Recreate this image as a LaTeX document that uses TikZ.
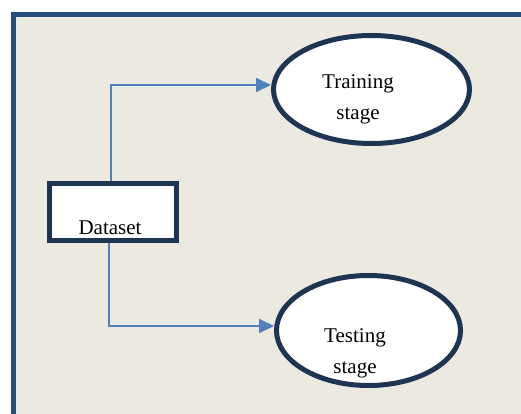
\documentclass[tikz,border=0pt]{standalone}
\usepackage{fontspec}
\setmainfont{Liberation Serif}
\usetikzlibrary{arrows.meta,shapes.geometric}
\definecolor{pagebg}{HTML}{ECE9E0}
\definecolor{framebl}{HTML}{254D7F}
\definecolor{navy}{HTML}{1D3553}
\definecolor{flowbl}{HTML}{4F81BD}
\begin{document}
\begin{tikzpicture}[x=1pt, y=-1pt,
    stagebox/.style={draw=navy, line width=5pt, fill=white, inner sep=0pt},
    stagetext/.style={font=\fontsize{21}{31}\selectfont, align=center, text=black},
    flow/.style={draw=flowbl, line width=2pt, -{Triangle[length=15pt, width=14pt]}}]
    \useasboundingbox (0,0) rectangle (521,414);

    %page and frame
    \fill[pagebg] (13.5,14.5) rectangle (521,414);
    \draw[framebl, line width=5pt] (13.5,414) -- (13.5,14.5) -- (521,14.5);

    %dataset box
    \node[stagebox, rectangle, minimum width=127pt, minimum height=57pt,
        label={[stagetext, xshift=-3pt, yshift=-16pt]center:Dataset}] (dataset) at (113,212) {};

    %stages
    \node[stagebox, ellipse, minimum width=196pt, minimum height=108pt,
        label={[stagetext, xshift=-13.5pt, yshift=-10pt]center:{Training\\stage}}] (train) at (371.5,89.5) {};
    \node[stagebox, ellipse, minimum width=184pt, minimum height=110pt,
        label={[stagetext, xshift=-13.5pt, yshift=-23pt]center:{Testing\\stage}}] (test) at (368.5,330.5) {};

    %arrows
    \draw[flow] ([xshift=-2pt]dataset.north) |- ([yshift=4.5pt]train.west);
    \draw[flow] ([xshift=-4pt]dataset.south) |- ([yshift=4.5pt]test.west);
\end{tikzpicture}
\end{document}
